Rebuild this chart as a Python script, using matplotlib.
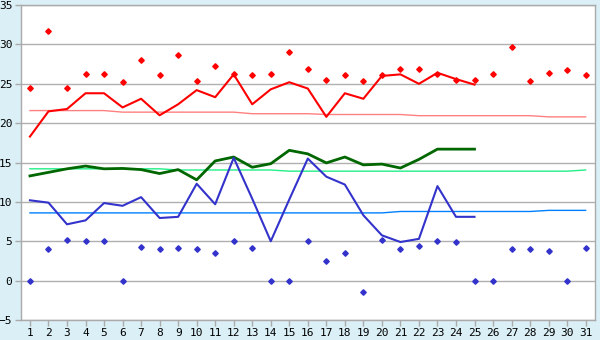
import matplotlib
matplotlib.use("Agg")
import matplotlib.pyplot as plt
import numpy as np

days = list(range(1, 32))

# daily maxima (points) and running line
tmax_pts = [24.5, 31.7, 24.5, 26.3, 26.3, 25.2, 28.0, 26.1, 28.6, 25.4,
            27.2, 26.2, 26.1, 26.2, 29.0, 26.9, 25.5, 26.1, 25.4, 26.1,
            26.9, 26.9, 26.3, 25.5, 25.5, 26.2, 29.7, 25.3, 26.4, 26.8, 26.1]
tmax_line = [18.3, 21.5, 21.8, 23.8, 23.8, 22.0, 23.1, 21.0, 22.4, 24.2,
             23.3, 26.2, 22.4, 24.3, 25.2, 24.4, 20.8, 23.8, 23.1, 26.0,
             26.2, 25.0, 26.4, 25.6, 24.9]
tmax_norm = [21.6] * 5 + [21.4] * 7 + [21.2] * 4 + [21.1] * 5 + [20.95] * 7 + [20.8] * 3

# mean
tmean_line = [13.3, 13.75, 14.2, 14.55, 14.2, 14.25, 14.1, 13.6, 14.1, 12.8,
              15.2, 15.7, 14.4, 14.85, 16.55, 16.1, 14.95, 15.7, 14.7, 14.8,
              14.3, 15.4, 16.7, 16.7, 16.7]
tmean_norm = [14.2] * 8 + [14.05] * 6 + [13.9] * 16 + [14.05]

# daily minima
tmin_pts = [0, 3.95, 5.1, 5.0, 5.0, 0, 4.3, 4.05, 4.2, 3.95,
            3.45, 5.0, 4.2, 0, 0, 5.0, 2.55, 3.45, -1.5, 5.1,
            4.05, 4.45, 5.0, 4.85, 0, 0, 3.95, 3.95, 3.8, 0, 4.2]
tmin_line = [10.2, 9.9, 7.15, 7.65, 9.85, 9.5, 10.6, 7.95, 8.1, 12.3,
             9.7, 15.6, 10.4, 5.0, 10.3, 15.5, 13.2, 12.2, 8.3, 5.75,
             4.9, 5.3, 12.0, 8.1, 8.1]
tmin_norm = [8.6] * 20 + [8.78] * 8 + [8.92] * 3

bg = "#daeff6"
fig = plt.figure(figsize=(6, 3.4), dpi=100, facecolor=bg)
ax = fig.add_axes([0.0345, 0.059, 0.957, 0.926])
ax.set_facecolor("white")

ax.plot(days, tmax_norm, color="#ff8080", lw=1.0)
ax.plot(days, tmean_norm, color="#22ee88", lw=1.0)
ax.plot(days, tmin_norm, color="#0080ff", lw=1.0)

ax.plot(days[:len(tmax_line)], tmax_line, color="#ff0000", lw=1.5)
ax.plot(days[:len(tmean_line)], tmean_line, color="#006600", lw=2.0)
ax.plot(days[:len(tmin_line)], tmin_line, color="#3333cc", lw=1.5)

ax.plot(days, tmax_pts, ls="none", marker="D", ms=2.8, color="#ff0000")
ax.plot(days, tmin_pts, ls="none", marker="D", ms=2.8, color="#3333cc")

ax.set_xlim(0.5, 31.5)
ax.set_ylim(-5, 35)
ax.set_xticks(days)
ax.set_yticks(range(-5, 36, 5))
ax.yaxis.grid(True, color="#b0b0b0", lw=1.0)
ax.set_axisbelow(True)
for s in ax.spines.values():
    s.set_color("#aaaaaa")
    s.set_linewidth(1.0)
ax.tick_params(colors="#aaaaaa", labelcolor="black", length=4, width=1.0,
               labelsize=8, pad=2)
for lab in ax.get_xticklabels() + ax.get_yticklabels():
    lab.set_family("DejaVu Sans Mono")

fig.savefig("out.png", dpi=100, facecolor=bg)
